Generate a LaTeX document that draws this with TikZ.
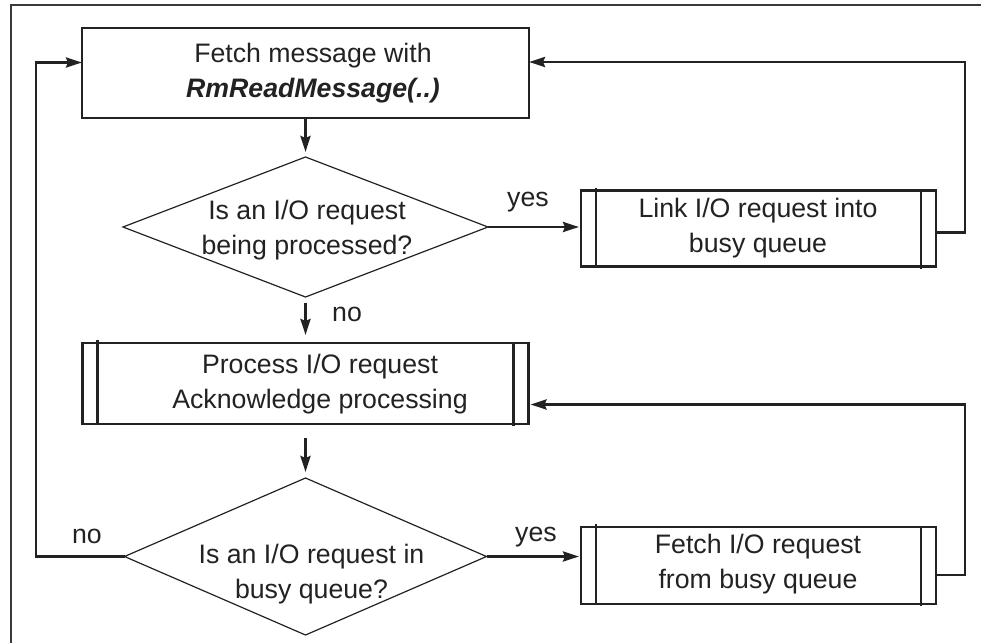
\documentclass[tikz,border=0pt]{standalone}
\usepackage{fontspec}
\setmainfont{Liberation Sans}
\usetikzlibrary{shapes.geometric,arrows.meta,calc}
\definecolor{ink}{HTML}{222222}
\definecolor{framegray}{HTML}{3A3A3A}
\begin{document}
\begin{tikzpicture}[x=1pt,y=-1pt,
  every node/.style={font=\fontsize{26.7}{35}\selectfont, text=ink},
  txt/.style={align=center, inner sep=0pt},
  stepbox/.style={draw=ink, line width=2.7pt, rectangle, inner sep=0pt, outer sep=0pt},
  decision/.style={draw=ink, line width=1.2pt, diamond, inner sep=0pt, outer sep=0pt},
  bar/.style={draw=ink, line width=2.5pt},
  flow/.style={draw=ink, line width=2.8pt, -{Stealth[length=16pt,width=10pt,inset=2pt]}},
  lbl/.style={anchor=base, inner sep=0pt}
]
\useasboundingbox (0,0) rectangle (981,643);

% frame (top and left edges)
\draw[framegray, line width=2pt] (11,643) -- (11,5) -- (981,5);

% boxes
\node[stepbox, minimum width=447pt, minimum height=90pt] (top) at (305.5,73) {};
\node[txt] (topt) at (313,73) {Fetch message with\\\textbf{\textit{RmReadMessage(..)}}};

\node[decision, minimum width=365pt, minimum height=140pt] (d1) at (305.5,227) {};
\node[txt] (d1t) at (307,230) {Is an I/O request\\being processed?};

\node[stepbox, minimum width=355pt, minimum height=76pt] (link) at (758.5,228.5) {};
\node[txt] (linkt) at (758,228) {Link I/O request into\\busy queue};

\node[stepbox, minimum width=446pt, minimum height=81pt] (proc) at (305.5,383.5) {};
\node[txt] (proct) at (320,384) {Process I/O request\\Acknowledge processing};

\node[decision, minimum width=362pt, minimum height=157pt] (d2) at (305.5,556.5) {};
\node[txt] (d2t) at (311.5,574) {Is an I/O request in\\busy queue?};

\node[stepbox, minimum width=355pt, minimum height=77pt] (fetch) at (758.5,565.5) {};
\node[txt] (fetcht) at (758,564) {Fetch I/O request\\from busy queue};

% side bars of the predefined-process boxes
\foreach \b in {link,proc,fetch}{
  \draw[bar] ([xshift=15pt,yshift=3pt]\b.north west) -- ([xshift=15pt]\b.south west);
  \draw[bar] ([xshift=-15pt]\b.north east) -- ([xshift=-15pt,yshift=-2pt]\b.south east);
}

% main flow
\draw[flow, shorten >=5pt] (top.south) -- (top.south |- d1.north);
\draw[flow, shorten <=5.5pt, shorten >=8pt] (d1.south) -- (d1.south |- proc.north);
\draw[flow, shorten <=14pt, shorten >=6pt] (proc.south) -- (proc.south |- d2.north);

% yes branches
\draw[flow, shorten >=2pt] (d1.east) -- (d1.east -| link.west);
\draw[flow, shorten >=2pt] (d2.east) -- (d2.east -| fetch.west);

% feedback loops
\draw[flow] ($(link.east)+(0,4)$) -- ++(29,0) |- ($(top.east)+(0,-11)$);
\draw[flow, shorten >=2pt] ($(fetch.east)+(0,9.5)$) -- ++(29,0) |- ($(proc.east)+(0,21)$);
\draw[flow] (d2.west) -- ++(-88.5,0) |- ($(top.west)+(0,-10.5)$);

% branch labels
\node[lbl] (yes1) at (528,206.7) {yes};
\node[lbl] (no1) at (347,321.7) {no};
\node[lbl] (yes2) at (536,541.7) {yes};
\node[lbl] (no2) at (87,543.3) {no};
\end{tikzpicture}
\end{document}
